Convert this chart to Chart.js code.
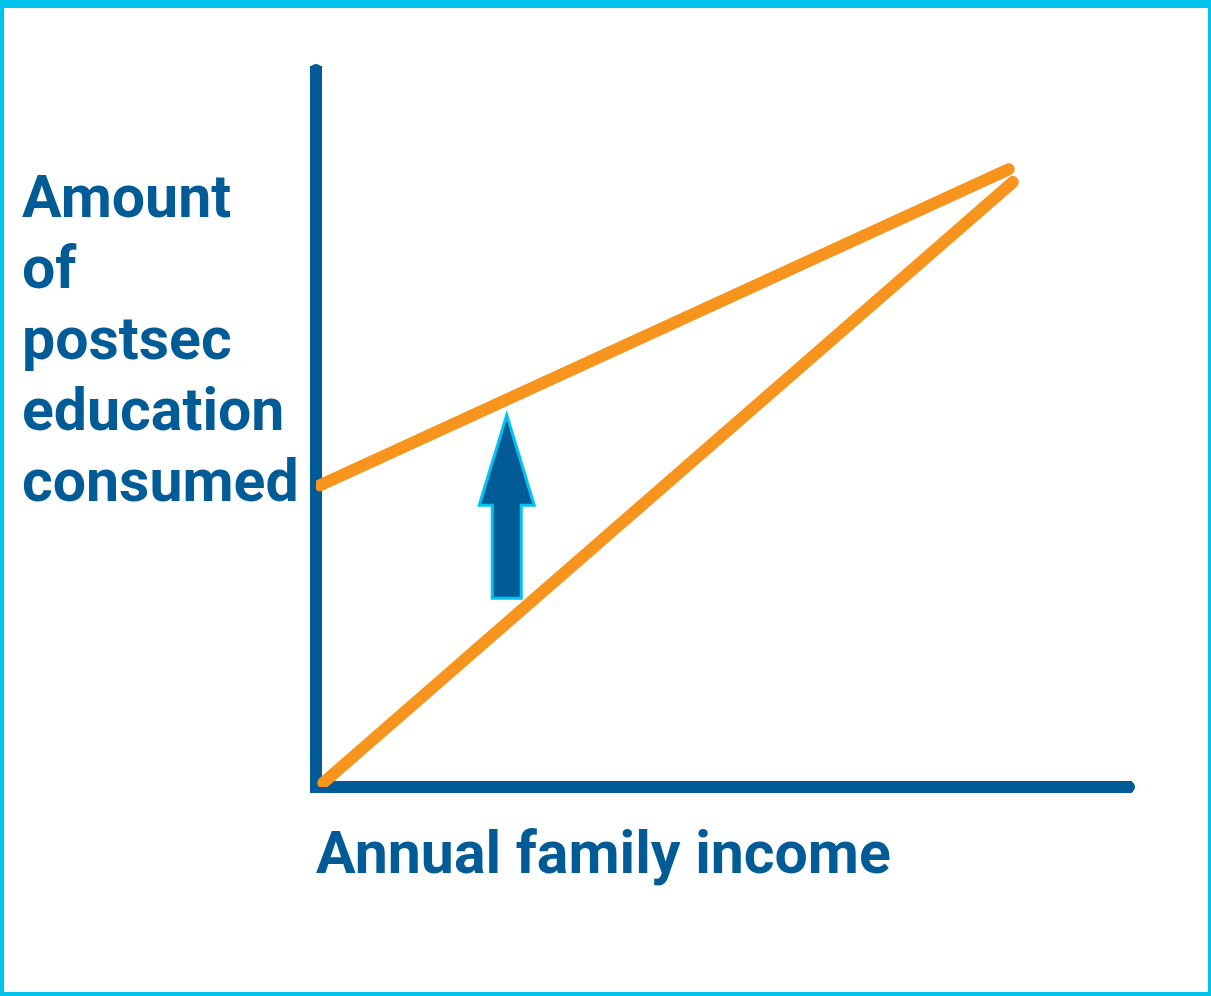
<!DOCTYPE html>
<html>
<head>
<meta charset="utf-8">
<script src="https://cdn.jsdelivr.net/npm/chart.js@4"></script>
<style>
  html, body { margin: 0; padding: 0; background: #ffffff; }
  #wrap {
    position: absolute; left: 0; top: 0;
    width: 1211px; height: 996px; box-sizing: border-box;
    border-style: solid; border-color: #00c4ee;
    border-width: 8px 3px 4px 4px;
    background: #ffffff;
  }
  canvas { display: block; }
</style>
</head>
<body>
<div id="wrap"><canvas id="c" width="1204" height="984"></canvas></div>
<script>
// ---- data ----
const yLabelLines = ['Amount', 'of', 'postsec', 'education', 'consumed'];
const xLabel = 'Annual family income';

// Shifted (upper) line
const upperX = [0.5, 85.0];
const upperY = [42.2, 86.4];
// Original (lower) line
const lowerX = [0.9, 85.5];
const lowerY = [0.6, 84.6];

// Arrow showing upward shift
const arrowX = 23.4;
const arrowBaseY = 26.2;
const arrowHeadBaseY = 39.2;
const arrowTipY = 52.3;

const axisMin = 0;
const axisMax = 100;

// ---- styles ----
const BLUE = '#005b96';
const ORANGE = '#f7941d';
const CYAN = '#00c4ee';
const FONT = '700 59px Roboto';

function toPoints(xs, ys) { return xs.map((x, i) => ({ x: x, y: ys[i] })); }

const overlayPlugin = {
  id: 'overlay',
  afterDatasetsDraw(chart) {
    const ctx = chart.ctx;
    const xs = chart.scales.x, ys = chart.scales.y;
    const area = chart.chartArea;
    // rounded ends of the axes
    ctx.save();
    ctx.fillStyle = BLUE;
    ctx.beginPath();
    ctx.arc(area.left, area.top - 2, 6, 0, Math.PI * 2);
    ctx.fill();
    ctx.beginPath();
    ctx.arc(area.right - 2, area.bottom, 6, 0, Math.PI * 2);
    ctx.fill();
    ctx.restore();
    // arrow
    const cx = xs.getPixelForValue(arrowX);
    const yBase = ys.getPixelForValue(arrowBaseY);
    const yHead = ys.getPixelForValue(arrowHeadBaseY);
    const yTip = ys.getPixelForValue(arrowTipY);
    const shaftHalf = 14.5, headHalf = 27.5;
    ctx.save();
    ctx.beginPath();
    ctx.moveTo(cx, yTip + 2);
    ctx.lineTo(cx + headHalf, yHead - 1.5);
    ctx.lineTo(cx + shaftHalf, yHead - 1.5);
    ctx.lineTo(cx + shaftHalf, yBase - 1.5);
    ctx.lineTo(cx - shaftHalf, yBase - 1.5);
    ctx.lineTo(cx - shaftHalf, yHead - 1.5);
    ctx.lineTo(cx - headHalf, yHead - 1.5);
    ctx.closePath();
    ctx.fillStyle = BLUE;
    ctx.fill();
    ctx.lineWidth = 3;
    ctx.strokeStyle = CYAN;
    ctx.lineJoin = 'miter';
    ctx.stroke();
    ctx.restore();
  },
  afterDraw(chart) {
    const ctx = chart.ctx;
    const area = chart.chartArea;
    ctx.save();
    ctx.font = FONT;
    ctx.fillStyle = BLUE;
    ctx.textBaseline = 'alphabetic';
    ctx.textAlign = 'left';
    yLabelLines.forEach((t, i) => {
      ctx.fillText(t, 18, 209 + i * 71);
    });
    ctx.fillText(xLabel, area.left, area.bottom + 86);
    ctx.restore();
  }
};

function build() {
  new Chart(document.getElementById('c'), {
    type: 'scatter',
    data: {
      datasets: [
        {
          data: toPoints(upperX, upperY),
          showLine: true,
          borderColor: ORANGE,
          borderWidth: 12,
          borderCapStyle: 'round',
          pointRadius: 0,
          pointHoverRadius: 0
        },
        {
          data: toPoints(lowerX, lowerY),
          showLine: true,
          borderColor: ORANGE,
          borderWidth: 12,
          borderCapStyle: 'round',
          pointRadius: 0,
          pointHoverRadius: 0
        }
      ]
    },
    options: {
      responsive: false,
      devicePixelRatio: 1,
      animation: false,
      layout: { padding: { left: 312, top: 64, right: 77, bottom: 205 } },
      plugins: { legend: { display: false }, tooltip: { enabled: false } },
      scales: {
        x: {
          type: 'linear', min: axisMin, max: axisMax,
          ticks: { display: false },
          grid: { display: false, drawTicks: false },
          border: { display: true, width: 12, color: BLUE },
          afterFit(s) { s.height = 0; }
        },
        y: {
          type: 'linear', min: axisMin, max: axisMax,
          ticks: { display: false },
          grid: { display: false, drawTicks: false },
          border: { display: true, width: 12, color: BLUE },
          afterFit(s) { s.width = 0; }
        }
      }
    },
    plugins: [overlayPlugin]
  });
}

if (document.fonts && document.fonts.load) {
  document.fonts.load(FONT).then(build, build);
} else {
  build();
}
</script>
</body>
</html>
